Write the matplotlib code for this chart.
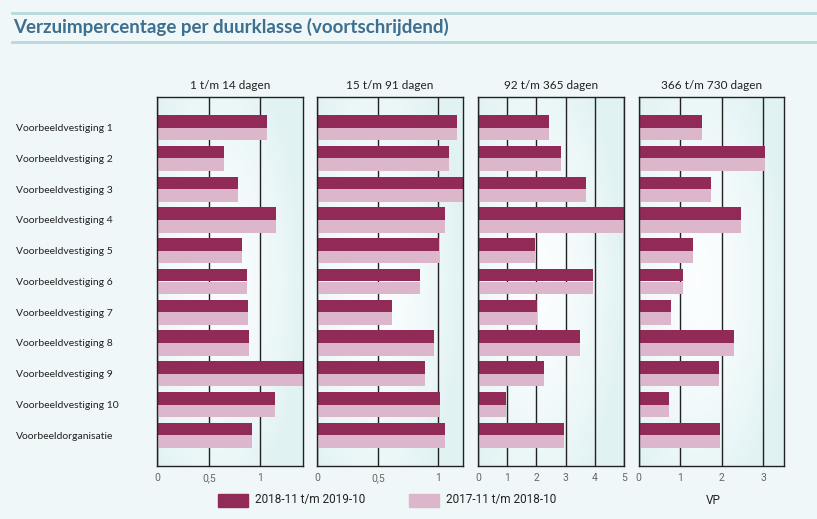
import matplotlib.pyplot as plt
import numpy as np
from matplotlib.patches import Rectangle
from matplotlib.lines import Line2D

categories = ["Voorbeeldvestiging 1", "Voorbeeldvestiging 2", "Voorbeeldvestiging 3",
              "Voorbeeldvestiging 4", "Voorbeeldvestiging 5", "Voorbeeldvestiging 6",
              "Voorbeeldvestiging 7", "Voorbeeldvestiging 8", "Voorbeeldvestiging 9",
              "Voorbeeldvestiging 10", "Voorbeeldorganisatie"]
panels = ["1 t/m 14 dagen", "15 t/m 91 dagen", "92 t/m 365 dagen", "366 t/m 730 dagen"]

# 2018-11 t/m 2019-10
cur_1_14 = [1.06, 0.65, 0.78, 1.15, 0.82, 0.87, 0.88, 0.89, 1.50, 1.14, 0.92]
cur_15_91 = [1.155, 1.09, 1.25, 1.05, 1.005, 0.85, 0.62, 0.96, 0.89, 1.01, 1.055]
cur_92_365 = [2.42, 2.83, 3.70, 5.2, 1.94, 3.94, 2.01, 3.49, 2.25, 0.94, 2.94]
cur_366_730 = [1.52, 3.03, 1.73, 2.46, 1.30, 1.06, 0.78, 2.29, 1.94, 0.73, 1.95]

# 2017-11 t/m 2018-10
prev_1_14 = [1.06, 0.65, 0.78, 1.15, 0.82, 0.87, 0.88, 0.89, 1.50, 1.14, 0.92]
prev_15_91 = [1.155, 1.09, 1.25, 1.05, 1.005, 0.85, 0.62, 0.96, 0.89, 1.01, 1.055]
prev_92_365 = [2.42, 2.83, 3.70, 5.2, 1.94, 3.94, 2.01, 3.49, 2.25, 0.94, 2.94]
prev_366_730 = [1.52, 3.03, 1.73, 2.46, 1.30, 1.06, 0.78, 2.29, 1.94, 0.73, 1.95]

x_max = [1.41, 1.2, 5.0, 3.5]
x_ticks = [[0, 0.5, 1], [0, 0.5, 1], [0, 1, 2, 3, 4, 5], [0, 1, 2, 3]]
x_labels = [["0", "0,5", "1"], ["0", "0,5", "1"], ["0", "1", "2", "3", "4", "5"], ["0", "1", "2", "3"]]

cur = [cur_1_14, cur_15_91, cur_92_365, cur_366_730]
prev = [prev_1_14, prev_15_91, prev_92_365, prev_366_730]

DARK = '#912a57'
LIGHT = '#dcb7cb'
BG = '#eff7f9'
W, H = 817, 519

fig = plt.figure(figsize=(8.17, 5.19), dpi=100, facecolor=BG)

# header
for yy in [13, 42]:
    fig.add_artist(Line2D([12 / W, 1], [1 - yy / H] * 2, color='#b6d9dd', lw=2))
fig.text(13 / W, 1 - 27 / H, "Verzuimpercentage per duurklasse (voortschrijdend)",
         fontsize=13.5, fontweight='bold', color='#3d6f8f', family='Lato', va='center')

# background gradient for the panels
gx, gy = np.meshgrid(np.linspace(0, 1, 200), np.linspace(0, 1, 200))
d = np.sqrt(((gx - 0.4) / 0.6) ** 2 + ((gy - 0.5) / 0.65) ** 2)
d = np.clip(d, 0, 1) ** 1.6
c0 = np.array([0.985, 0.995, 0.997])
c1 = np.array([0.885, 0.95, 0.955])
grad = c0[None, None, :] + (c1 - c0)[None, None, :] * d[:, :, None]

lefts = [157.3, 317.3, 478.3, 638.7]
y = np.arange(len(categories))
bh = 0.41
for i in range(4):
    ax = fig.add_axes([lefts[i] / W, 53 / H, 145.4 / W, 369 / H])
    ax.imshow(grad, extent=[0, 1, 0, 1], transform=ax.transAxes, aspect='auto', zorder=0)
    ax.barh(y - bh / 2, cur[i], height=bh, color=DARK, zorder=2)
    ax.barh(y + bh / 2, prev[i], height=bh, color=LIGHT, zorder=2)
    ax.set_xlim(0, x_max[i])
    ax.set_ylim(11, -1)
    ax.set_xticks(x_ticks[i])
    ax.set_xticklabels(x_labels[i], family='Roboto', fontsize=7.5, color='#666666')
    ax.grid(axis='x', color='#222222', lw=1.0, zorder=1)
    ax.tick_params(axis='x', length=0, pad=5)
    for s in ax.spines.values():
        s.set_color('#222222')
        s.set_linewidth(1.0)
    ax.set_title(panels[i], fontsize=8.5, color='#222222', family='Lato', pad=6)
    if i == 0:
        ax.set_yticks(y)
        ax.set_yticklabels(categories, fontsize=7.5, color='#222222', family='Lato', ha='left')
        ax.tick_params(axis='y', length=0, pad=102)
    else:
        ax.set_yticks([])

# legend
fig.add_artist(Rectangle((218 / W, 1 - 507 / H), 30 / W, 13 / H, color=DARK))
fig.text(255 / W, 1 - 500 / H, "2018-11 t/m 2019-10", fontsize=8.5, family='Roboto',
         color='#222222', va='center')
fig.add_artist(Rectangle((409 / W, 1 - 507 / H), 30 / W, 13 / H, color=LIGHT))
fig.text(446 / W, 1 - 500 / H, "2017-11 t/m 2018-10", fontsize=8.5, family='Roboto',
         color='#222222', va='center')
fig.text(713 / W, 1 - 501 / H, "VP", fontsize=8.5, family='Roboto',
         color='#222222', va='center', ha='center')

fig.savefig('out.png', dpi=100, facecolor=BG)
